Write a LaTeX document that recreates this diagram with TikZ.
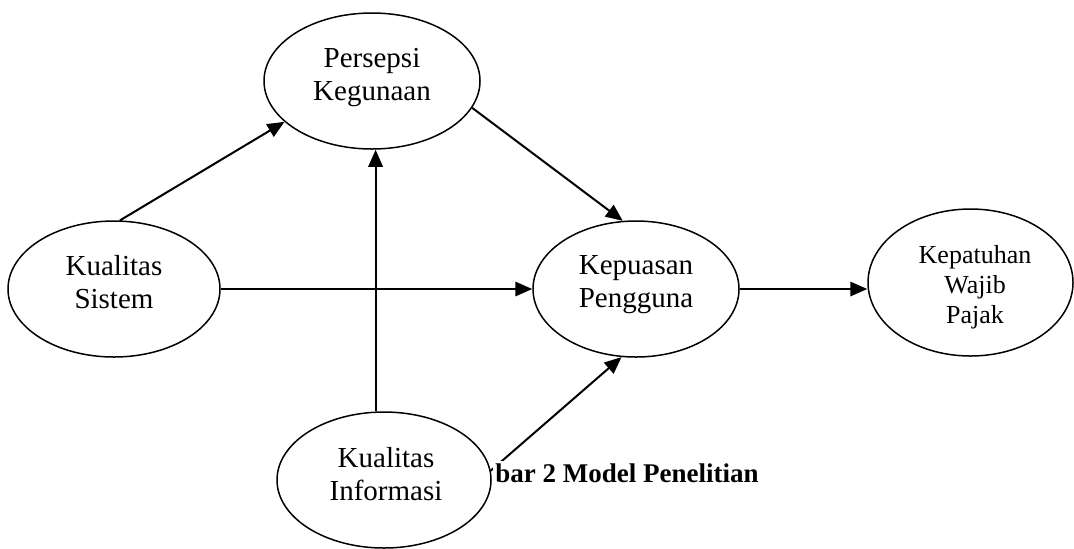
\documentclass[tikz,border=0pt]{standalone}
\usepackage{fontspec}
\setmainfont{Liberation Serif}
\usetikzlibrary{shapes.geometric,arrows.meta}
\pgfdeclarelayer{bg}
\pgfsetlayers{bg,main}
\begin{document}
\begin{tikzpicture}[x=0.5pt,y=-0.5pt,
  oval/.style={ellipse,draw,line width=0.75pt,fill=white,inner sep=0pt},
  txt/.style={align=center,inner sep=0pt,font=\fontsize{14.5}{16.5}\selectfont},
  txtsmall/.style={align=center,inner sep=0pt,font=\fontsize{13}{15}\selectfont},
  captxt/.style={font=\fontsize{13.5}{16}\selectfont\bfseries,fill=white,inner sep=1pt,anchor=base west},
  arr/.style={line width=1pt,-{Triangle[length=8.5pt,width=7.2pt]}}]
\useasboundingbox (0,0) rectangle (1074,548);
% caption (partly hidden by the ellipse)
\node[captxt] (cap) at (493,482) {bar 2 Model Penelitian};
% ellipses
\node[oval,minimum width=108pt,minimum height=68pt] (pk) at (372,81) {};
\node[oval,minimum width=106pt,minimum height=68pt] (ks) at (114,289) {};
\node[oval,minimum width=103pt,minimum height=68pt] (kp) at (636,289) {};
\node[oval,minimum width=107pt,minimum height=68pt] (ki) at (384,480) {};
\node[oval,minimum width=102.5pt,minimum height=73.5pt] (kt) at (970.5,282.5) {};
% texts
\node[txt] (pkt) at (372,77.7) {Persepsi\\Kegunaan};
\node[txt] (kst) at (114,281.6) {Kualitas\\Sistem};
\node[txt] (kpt) at (636,284.8) {Kepuasan\\Pengguna};
\node[txt] (kit) at (386,473.6) {Kualitas\\Informasi};
\node[txtsmall] (ktt) at (975,287) {Kepatuhan\\Wajib\\Pajak};
% connectors
\begin{pgfonlayer}{bg}
\draw[arr] (ks.85) -- (pk.205);
\draw[arr] (ks.east) -- (kp.west);
\draw[arr] (ki.97) -- (ki.97 |- pk.south);
\draw[arr] (ki.5) -- (kp.258);
\draw[arr] (pk.345) -- (kp.101);
\draw[arr] (kp.east) -- (kp.east -| kt.west);
\end{pgfonlayer}
\end{tikzpicture}
\end{document}
